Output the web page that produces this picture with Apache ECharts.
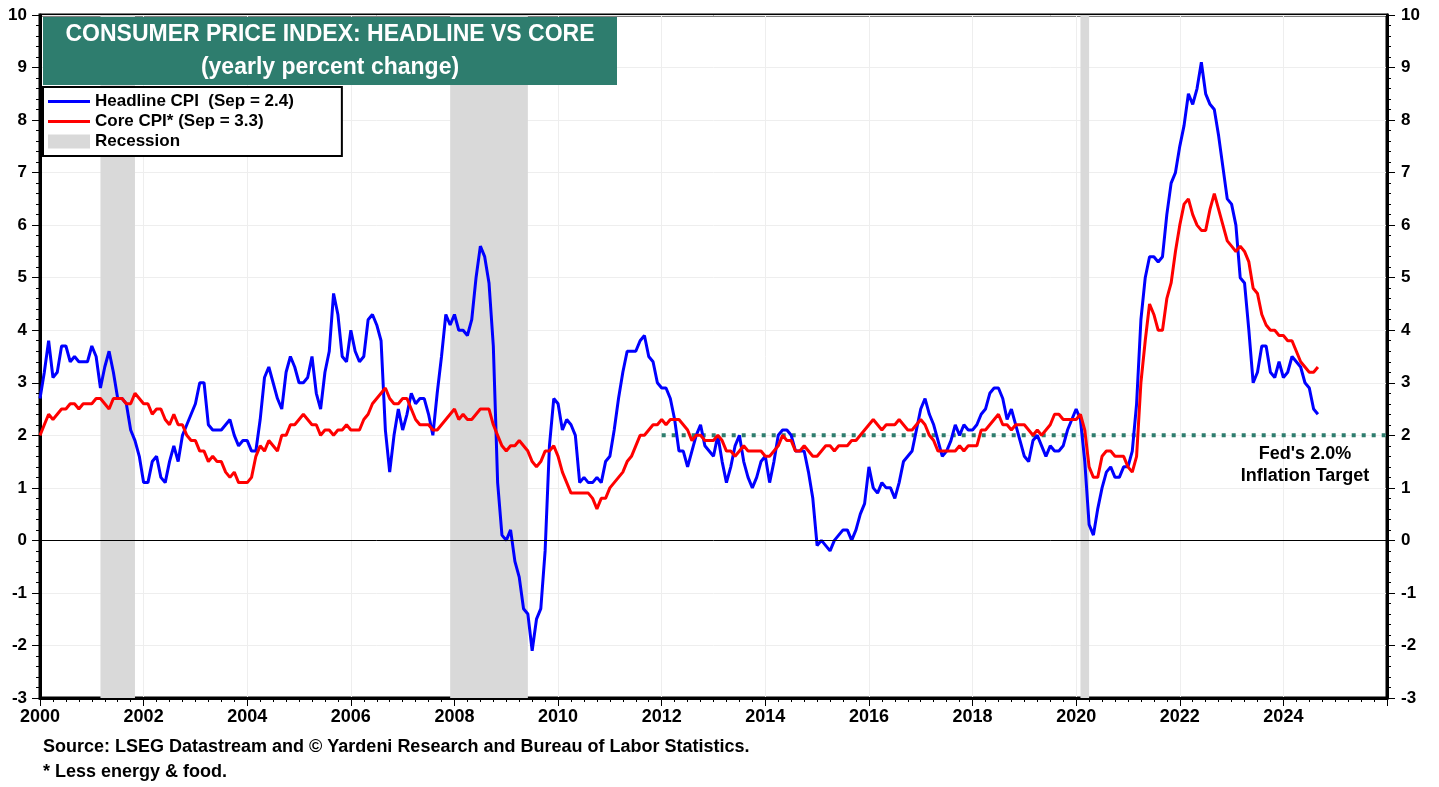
<!DOCTYPE html>
<html>
<head>
<meta charset="utf-8">
<title>Consumer Price Index: Headline vs Core</title>
<script src="https://cdn.jsdelivr.net/npm/echarts@6/dist/echarts.min.js"></script>
<style>
  html, body { margin: 0; padding: 0; background: #fff; }
  #chart { width: 1439px; height: 787px; }
</style>
</head>
<body>
<div id="chart"></div>
<script>
// monthly yearly % change, Jan 2000 .. Sep 2024
const startYear = 2000;
const headlineCpi = [
  2.7, 3.2, 3.8, 3.1, 3.2, 3.7, 3.7, 3.4, 3.5, 3.4, 3.4, 3.4, // 2000
  3.7, 3.5, 2.9, 3.3, 3.6, 3.2, 2.7, 2.7, 2.6, 2.1, 1.9, 1.6, // 2001
  1.1, 1.1, 1.5, 1.6, 1.2, 1.1, 1.5, 1.8, 1.5, 2.0, 2.2, 2.4, // 2002
  2.6, 3.0, 3.0, 2.2, 2.1, 2.1, 2.1, 2.2, 2.3, 2.0, 1.8, 1.9, // 2003
  1.9, 1.7, 1.7, 2.3, 3.1, 3.3, 3.0, 2.7, 2.5, 3.2, 3.5, 3.3, // 2004
  3.0, 3.0, 3.1, 3.5, 2.8, 2.5, 3.2, 3.6, 4.7, 4.3, 3.5, 3.4, // 2005
  4.0, 3.6, 3.4, 3.5, 4.2, 4.3, 4.1, 3.8, 2.1, 1.3, 2.0, 2.5, // 2006
  2.1, 2.4, 2.8, 2.6, 2.7, 2.7, 2.4, 2.0, 2.8, 3.5, 4.3, 4.1, // 2007
  4.3, 4.0, 4.0, 3.9, 4.2, 5.0, 5.6, 5.4, 4.9, 3.7, 1.1, 0.1, // 2008
  0.0, 0.2, -0.4, -0.7, -1.3, -1.4, -2.1, -1.5, -1.3, -0.2, 1.8, 2.7, // 2009
  2.6, 2.1, 2.3, 2.2, 2.0, 1.1, 1.2, 1.1, 1.1, 1.2, 1.1, 1.5, // 2010
  1.6, 2.1, 2.7, 3.2, 3.6, 3.6, 3.6, 3.8, 3.9, 3.5, 3.4, 3.0, // 2011
  2.9, 2.9, 2.7, 2.3, 1.7, 1.7, 1.4, 1.7, 2.0, 2.2, 1.8, 1.7, // 2012
  1.6, 2.0, 1.5, 1.1, 1.4, 1.8, 2.0, 1.5, 1.2, 1.0, 1.2, 1.5, // 2013
  1.6, 1.1, 1.5, 2.0, 2.1, 2.1, 2.0, 1.7, 1.7, 1.7, 1.3, 0.8, // 2014
  -0.1, 0.0, -0.1, -0.2, 0.0, 0.1, 0.2, 0.2, 0.0, 0.2, 0.5, 0.7, // 2015
  1.4, 1.0, 0.9, 1.1, 1.0, 1.0, 0.8, 1.1, 1.5, 1.6, 1.7, 2.1, // 2016
  2.5, 2.7, 2.4, 2.2, 1.9, 1.6, 1.7, 1.9, 2.2, 2.0, 2.2, 2.1, // 2017
  2.1, 2.2, 2.4, 2.5, 2.8, 2.9, 2.9, 2.7, 2.3, 2.5, 2.2, 1.9, // 2018
  1.6, 1.5, 1.9, 2.0, 1.8, 1.6, 1.8, 1.7, 1.7, 1.8, 2.1, 2.3, // 2019
  2.5, 2.3, 1.5, 0.3, 0.1, 0.6, 1.0, 1.3, 1.4, 1.2, 1.2, 1.4, // 2020
  1.4, 1.7, 2.6, 4.2, 5.0, 5.4, 5.4, 5.3, 5.4, 6.2, 6.8, 7.0, // 2021
  7.5, 7.9, 8.5, 8.3, 8.6, 9.1, 8.5, 8.3, 8.2, 7.7, 7.1, 6.5, // 2022
  6.4, 6.0, 5.0, 4.9, 4.0, 3.0, 3.2, 3.7, 3.7, 3.2, 3.1, 3.4, // 2023
  3.1, 3.2, 3.5, 3.4, 3.3, 3.0, 2.9, 2.5, 2.4                 // 2024
];
const coreCpi = [
  2.0, 2.2, 2.4, 2.3, 2.4, 2.5, 2.5, 2.6, 2.6, 2.5, 2.6, 2.6, // 2000
  2.6, 2.7, 2.7, 2.6, 2.5, 2.7, 2.7, 2.7, 2.6, 2.6, 2.8, 2.7, // 2001
  2.6, 2.6, 2.4, 2.5, 2.5, 2.3, 2.2, 2.4, 2.2, 2.2, 2.0, 1.9, // 2002
  1.9, 1.7, 1.7, 1.5, 1.6, 1.5, 1.5, 1.3, 1.2, 1.3, 1.1, 1.1, // 2003
  1.1, 1.2, 1.6, 1.8, 1.7, 1.9, 1.8, 1.7, 2.0, 2.0, 2.2, 2.2, // 2004
  2.3, 2.4, 2.3, 2.2, 2.2, 2.0, 2.1, 2.1, 2.0, 2.1, 2.1, 2.2, // 2005
  2.1, 2.1, 2.1, 2.3, 2.4, 2.6, 2.7, 2.8, 2.9, 2.7, 2.6, 2.6, // 2006
  2.7, 2.7, 2.5, 2.3, 2.2, 2.2, 2.2, 2.1, 2.1, 2.2, 2.3, 2.4, // 2007
  2.5, 2.3, 2.4, 2.3, 2.3, 2.4, 2.5, 2.5, 2.5, 2.2, 2.0, 1.8, // 2008
  1.7, 1.8, 1.8, 1.9, 1.8, 1.7, 1.5, 1.4, 1.5, 1.7, 1.7, 1.8, // 2009
  1.6, 1.3, 1.1, 0.9, 0.9, 0.9, 0.9, 0.9, 0.8, 0.6, 0.8, 0.8, // 2010
  1.0, 1.1, 1.2, 1.3, 1.5, 1.6, 1.8, 2.0, 2.0, 2.1, 2.2, 2.2, // 2011
  2.3, 2.2, 2.3, 2.3, 2.3, 2.2, 2.1, 1.9, 2.0, 2.0, 1.9, 1.9, // 2012
  1.9, 2.0, 1.9, 1.7, 1.7, 1.6, 1.7, 1.8, 1.7, 1.7, 1.7, 1.7, // 2013
  1.6, 1.6, 1.7, 1.8, 2.0, 1.9, 1.9, 1.7, 1.7, 1.8, 1.7, 1.6, // 2014
  1.6, 1.7, 1.8, 1.8, 1.7, 1.8, 1.8, 1.8, 1.9, 1.9, 2.0, 2.1, // 2015
  2.2, 2.3, 2.2, 2.1, 2.2, 2.2, 2.2, 2.3, 2.2, 2.1, 2.1, 2.2, // 2016
  2.3, 2.2, 2.0, 1.9, 1.7, 1.7, 1.7, 1.7, 1.7, 1.8, 1.7, 1.8, // 2017
  1.8, 1.8, 2.1, 2.1, 2.2, 2.3, 2.4, 2.2, 2.2, 2.1, 2.2, 2.2, // 2018
  2.2, 2.1, 2.0, 2.1, 2.0, 2.1, 2.2, 2.4, 2.4, 2.3, 2.3, 2.3, // 2019
  2.3, 2.4, 2.1, 1.4, 1.2, 1.2, 1.6, 1.7, 1.7, 1.6, 1.6, 1.6, // 2020
  1.4, 1.3, 1.6, 3.0, 3.8, 4.5, 4.3, 4.0, 4.0, 4.6, 4.9, 5.5, // 2021
  6.0, 6.4, 6.5, 6.2, 6.0, 5.9, 5.9, 6.3, 6.6, 6.3, 6.0, 5.7, // 2022
  5.6, 5.5, 5.6, 5.5, 5.3, 4.8, 4.7, 4.3, 4.1, 4.0, 4.0, 3.9, // 2023
  3.9, 3.8, 3.8, 3.6, 3.4, 3.3, 3.2, 3.2, 3.3                 // 2024
];
// recession periods, as decimal years (start, end)
const recessions = [[2001.167, 2001.833], [2007.917, 2009.417], [2020.083, 2020.25]];
const fedTarget = 2.0;
const fedTargetStart = 2012;
const xMin = 2000, xMax = 2026;
const yMin = -3, yMax = 10;

const toPairs = arr => arr.map((v, i) => [startYear + i / 12, v]);

const font = 'Liberation Sans, Arial, sans-serif';
const teal = '#2e7d6e';
const yLabelStyle = { color: '#000', fontWeight: 'bold', fontSize: 17, fontFamily: font };
const xLabelStyle = { color: '#000', fontWeight: 'bold', fontSize: 18, fontFamily: font };
// thin horizontal bar, used as legend icon for the two lines
const lineIcon = 'path://M0,0 L42,0 L42,3 L0,3 Z';

const chart = echarts.init(document.getElementById('chart'), null, { renderer: 'canvas' });

const legendNames = {
  'Headline CPI': 'Headline CPI  (Sep = 2.4)',
  'Core CPI': 'Core CPI* (Sep = 3.3)',
  'Recession': 'Recession'
};

const yAxisCommon = {
  type: 'value',
  min: yMin,
  max: yMax,
  interval: 1,
  axisLine: { show: true, lineStyle: { color: '#000', width: 3 } },
  axisTick: { show: true, inside: false, length: 8, lineStyle: { color: '#000', width: 1 } },
  minorTick: { show: true, splitNumber: 5, length: 4, lineStyle: { color: '#000' } }
};

const option = {
  animation: false,
  backgroundColor: '#fff',
  grid: {
    left: 40, right: 52, top: 15, bottom: 89,
    show: true, borderColor: '#000', borderWidth: 3, backgroundColor: 'transparent'
  },
  xAxis: {
    type: 'value',
    min: xMin,
    max: xMax,
    interval: 2,
    axisLine: { show: true, onZero: false, lineStyle: { color: '#000', width: 3 } },
    axisTick: { show: true, length: 8, lineStyle: { color: '#000' } },
    minorTick: { show: true, splitNumber: 8, length: 4, lineStyle: { color: '#000' } },
    axisLabel: Object.assign({
      margin: 10,
      formatter: v => (v < xMax ? String(v) : '')
    }, xLabelStyle),
    splitLine: { show: true, lineStyle: { color: '#eeeeee', width: 1 } }
  },
  yAxis: [
    Object.assign({}, yAxisCommon, {
      position: 'left',
      axisLabel: Object.assign({ margin: 13 }, yLabelStyle),
      splitLine: { show: true, lineStyle: { color: '#eeeeee', width: 1 } }
    }),
    Object.assign({}, yAxisCommon, {
      position: 'right',
      axisLabel: Object.assign({ margin: 14 }, yLabelStyle),
      splitLine: { show: false }
    })
  ],
  legend: {
    orient: 'vertical',
    left: 43,
    top: 87,
    padding: [6, 48, 6, 5],
    itemWidth: 42,
    itemHeight: 14,
    itemGap: 3,
    backgroundColor: '#fff',
    borderColor: '#000',
    borderWidth: 2,
    borderRadius: 0,
    selectedMode: false,
    symbolKeepAspect: true,
    textStyle: { color: '#000', fontWeight: 'bold', fontSize: 17, fontFamily: font },
    formatter: name => legendNames[name] || name,
    data: [
      { name: 'Headline CPI', icon: lineIcon },
      { name: 'Core CPI', icon: lineIcon },
      { name: 'Recession', icon: 'rect' }
    ],
    z: 10
  },
  graphic: [
    // title box
    {
      type: 'rect', left: 43, top: 17, z: 20,
      shape: { width: 574, height: 68 }, style: { fill: teal }
    },
    {
      type: 'text', x: 330, y: 35, z: 21,
      style: {
        text: 'CONSUMER PRICE INDEX: HEADLINE VS CORE',
        fill: '#fff', font: 'bold 23px ' + font, align: 'center', verticalAlign: 'middle'
      }
    },
    {
      type: 'text', x: 330, y: 68, z: 21,
      style: {
        text: '(yearly percent change)',
        fill: '#fff', font: 'bold 23px ' + font, align: 'center', verticalAlign: 'middle'
      }
    },
    // target note
    {
      type: 'text', x: 1305, y: 443, z: 21,
      style: {
        text: "Fed's 2.0%\nInflation Target",
        fill: '#000', font: 'bold 18px ' + font, align: 'center', lineHeight: 22
      }
    },
    // footnotes
    {
      type: 'text', x: 43, y: 738, z: 21,
      style: {
        text: 'Source: LSEG Datastream and \u00a9 Yardeni Research and Bureau of Labor Statistics.',
        fill: '#000', font: 'bold 18px ' + font
      }
    },
    {
      type: 'text', x: 43, y: 763, z: 21,
      style: { text: '* Less energy & food.', fill: '#000', font: 'bold 18px ' + font }
    }
  ],
  series: [
    {
      // recession shading + zero line
      name: 'Recession',
      type: 'line',
      data: [],
      z: 1,
      itemStyle: { color: '#d9d9d9' },
      lineStyle: { color: '#d9d9d9' },
      silent: true,
      markArea: {
        silent: true,
        itemStyle: { color: '#d9d9d9' },
        data: recessions.map(r => [{ xAxis: r[0] }, { xAxis: r[1] }])
      },
      markLine: {
        silent: true,
        symbol: ['none', 'none'],
        label: { show: false },
        lineStyle: { color: '#000', width: 1, type: 'solid' },
        data: [{ yAxis: 0 }]
      }
    },
    {
      name: 'Fed target',
      type: 'line',
      data: [[fedTargetStart, fedTarget], [xMax, fedTarget]],
      symbol: 'none',
      z: 2,
      silent: true,
      lineStyle: { color: teal, width: 4, type: [4, 6], cap: 'butt' }
    },
    {
      name: 'Headline CPI',
      type: 'line',
      data: toPairs(headlineCpi),
      symbol: 'none',
      z: 3,
      itemStyle: { color: '#0000ff' },
      lineStyle: { color: '#0000ff', width: 3 }
    },
    {
      name: 'Core CPI',
      type: 'line',
      data: toPairs(coreCpi),
      symbol: 'none',
      z: 3,
      itemStyle: { color: '#ff0000' },
      lineStyle: { color: '#ff0000', width: 3 }
    }
  ]
};

chart.setOption(option);
</script>
</body>
</html>
